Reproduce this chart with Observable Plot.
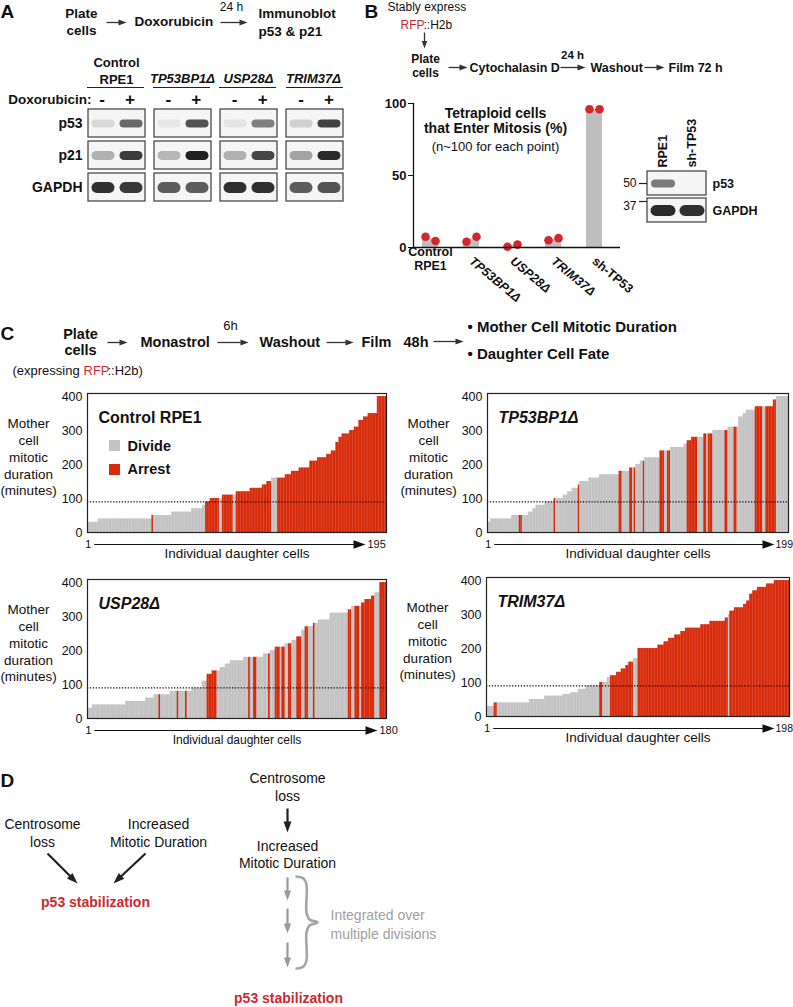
<!DOCTYPE html>
<html><head><meta charset="utf-8">
<script src="https://cdn.jsdelivr.net/npm/d3@7"></script>
<script src="https://cdn.jsdelivr.net/npm/@observablehq/plot@0.6"></script>
<style>
body{margin:0;background:#fff;}
#fig{position:relative;width:793px;height:1007px;overflow:hidden;}
#fig svg{position:absolute;overflow:visible;}
</style></head><body><div id="fig"></div>
<script>
// ---------------- DATA ----------------
// Panel A immunoblot (band intensity 0..1, per group: Control, TP53BP1Δ, USP28Δ, TRIM37Δ)
const blotGroups = ["Control RPE1", "TP53BP1Δ", "USP28Δ", "TRIM37Δ"];
const blotRows = ["p53", "p21", "GAPDH"];
const p53Untreated = [0.12, 0.06, 0.07, 0.16];
const p53Doxo = [0.62, 0.72, 0.52, 0.80];
const p21Untreated = [0.30, 0.28, 0.30, 0.36];
const p21Doxo = [0.82, 0.95, 0.78, 0.90];
const gapdhUntreated = [0.88, 0.68, 0.88, 0.68];
const gapdhDoxo = [0.84, 0.68, 0.88, 0.72];

// Panel B
const bCats = ["Control RPE1", "TP53BP1Δ", "USP28Δ", "TRIM37Δ", "sh-TP53"];
const bRep1 = [7.5, 4, 0.5, 5, 96];
const bRep2 = [4.5, 7.5, 2, 6.5, 96];
const insetLanes = ["RPE1", "sh-TP53"];
const insetRows = ["p53", "GAPDH"];
const insetP53 = [0.55, 0];
const insetGapdh = [0.9, 0.88];

// Panel C: runs of [mitotic duration (min), number of cells, fate D=Divide A=Arrest]
const threshold = 90;
const ctrlRuns = [[30,7,"D"],[40,35,"D"],[50,1,"A"],[50,12,"D"],[60,13,"D"],[70,7,"D"],[80,2,"D"],
 [90,3,"A"],[100,6,"A"],[100,2,"D"],[110,7,"A"],[110,2,"D"],[120,9,"A"],[130,8,"A"],[140,3,"A"],
 [150,3,"A"],[160,4,"D"],[160,5,"A"],[170,4,"A"],[180,5,"A"],[190,7,"A"],[210,5,"A"],[220,6,"A"],
 [230,3,"A"],[240,3,"A"],[265,2,"A"],[280,2,"A"],[290,5,"A"],[300,3,"A"],[310,3,"A"],[330,3,"A"],
 [340,3,"A"],[350,6,"A"],[400,6,"A"]];
const tp53bp1Runs = [[30,2,"D"],[40,14,"D"],[50,5,"D"],[50,2,"A"],[50,4,"D"],[60,3,"D"],[70,2,"D"],
 [80,6,"D"],[90,6,"D"],[100,1,"A"],[100,5,"D"],[110,3,"D"],[120,3,"D"],[130,4,"D"],[140,1,"A"],
 [150,6,"D"],[160,7,"D"],[170,13,"D"],[180,2,"A"],[180,5,"D"],[190,2,"A"],[190,1,"D"],[190,1,"A"],
 [200,3,"D"],[210,2,"D"],[210,1,"A"],[220,10,"D"],[240,3,"A"],[240,2,"D"],[240,2,"A"],[250,9,"D"],
 [260,2,"D"],[270,3,"A"],[280,4,"A"],[280,4,"D"],[290,2,"A"],[290,1,"D"],[290,3,"A"],[300,8,"D"],
 [300,2,"A"],[310,4,"D"],[310,2,"A"],[310,1,"D"],[340,3,"D"],[350,2,"D"],[360,6,"D"],[370,5,"A"],
 [370,2,"D"],[370,5,"A"],[390,2,"A"],[400,8,"D"]];
const usp28Runs = [[30,3,"D"],[40,20,"D"],[50,12,"D"],[60,5,"D"],[70,3,"D"],[70,1,"A"],[70,6,"D"],
 [80,4,"D"],[80,1,"A"],[80,4,"D"],[80,1,"A"],[80,3,"D"],[90,6,"D"],[110,3,"D"],[130,3,"A"],
 [140,3,"A"],[140,2,"D"],[150,3,"D"],[160,3,"D"],[170,8,"D"],[180,3,"D"],[180,1,"A"],[180,2,"D"],
 [180,2,"A"],[180,4,"D"],[190,3,"D"],[190,1,"A"],[200,3,"D"],[210,3,"A"],[210,1,"D"],[210,2,"A"],
 [220,2,"D"],[220,2,"A"],[230,3,"D"],[240,3,"A"],[260,2,"D"],[270,2,"A"],[270,3,"D"],[280,1,"A"],
 [280,2,"D"],[290,7,"D"],[310,11,"D"],[320,2,"A"],[330,2,"D"],[330,3,"A"],[330,1,"D"],[340,2,"A"],
 [350,4,"A"],[360,2,"A"],[370,3,"D"],[400,4,"A"]];
const trim37Runs = [[30,5,"D"],[40,2,"A"],[40,21,"D"],[50,10,"D"],[60,12,"D"],[65,5,"D"],[70,5,"D"],
 [80,5,"D"],[90,9,"D"],[100,2,"A"],[100,3,"D"],[115,2,"D"],[120,4,"A"],[130,3,"A"],[140,3,"A"],
 [150,2,"A"],[160,3,"A"],[170,3,"D"],[200,13,"A"],[210,4,"A"],[220,3,"A"],[230,4,"A"],[240,4,"A"],
 [250,3,"A"],[260,10,"A"],[270,6,"A"],[280,10,"A"],[290,2,"A"],[300,1,"D"],[310,3,"A"],[320,6,"A"],
 [330,2,"A"],[340,2,"A"],[360,2,"A"],[370,3,"A"],[380,6,"A"],[390,5,"A"],[400,10,"A"]];

// ---------------- STYLE ----------------
const FONT = "'Liberation Sans', Arial, Helvetica, sans-serif";
const GRAY = "#c3c3c3", RED = "#d72b0c", TXTRED = "#cc2a30", DOTRED = "#d3262e";
const base = {fontFamily: FONT, background: "transparent", overflow: "visible", color: "#111"};
const fig = document.getElementById("fig");
function place(svg, left, top) { svg.style.left = left + "px"; svg.style.top = top + "px"; fig.appendChild(svg); }

const headSym = {draw(ctx, size) { const r = Math.sqrt(size / Math.PI);
  ctx.moveTo(0, 0); ctx.lineTo(r * 0.72, r * 2); ctx.lineTo(-r * 0.72, r * 2); ctx.closePath(); }};
const bandSym = (w) => ({draw(ctx, size) { const h = Math.sqrt(size / Math.PI); const a = w / 2 - h;
  ctx.moveTo(-a, -h); ctx.lineTo(a, -h); ctx.arc(a, 0, h, -Math.PI / 2, Math.PI / 2);
  ctx.lineTo(-a, h); ctx.arc(-a, 0, h, Math.PI / 2, Math.PI * 1.5); ctx.closePath(); }});
function addBlur(svg, id, sd) {
  const s = d3.select(svg);
  s.insert("defs", ":first-child").append("filter").attr("id", id)
    .attr("x", "-40%").attr("y", "-80%").attr("width", "180%").attr("height", "260%")
    .append("feGaussianBlur").attr("stdDeviation", sd);
  s.selectAll('g[aria-label="band"]').attr("filter", `url(#${id})`);
}

// ---------------- PANEL A blots ----------------
{
  const cells = blotGroups.flatMap(g => blotRows.map(r => ({g, r})));
  const lane = (row, vals) => blotGroups.map((g, i) => ({g, r: row, o: vals[i]}));
  const bands = [];
  [["p53", p53Untreated, p53Doxo, 4.0], ["p21", p21Untreated, p21Doxo, 4.6], ["GAPDH", gapdhUntreated, gapdhDoxo, 5.4]]
    .forEach(([row, u, d, r]) => {
      bands.push(Plot.dot(lane(row, u), {x: "g", y: "r", dx: -14, r, symbol: bandSym(23), fill: "#141414", fillOpacity: "o", stroke: "none", ariaLabel: "band"}));
      bands.push(Plot.dot(lane(row, d), {x: "g", y: "r", dx: 14, r, symbol: bandSym(23), fill: "#141414", fillOpacity: "o", stroke: "none", ariaLabel: "band"}));
    });
  const svg = Plot.plot({
    width: 350, height: 110, marginLeft: 87, marginRight: 7, marginTop: 8, marginBottom: 8,
    x: {type: "band", domain: blotGroups, paddingInner: 0.14, paddingOuter: 0, axis: null},
    y: {type: "band", domain: blotRows, paddingInner: 0.12, paddingOuter: 0, axis: null},
    style: {...base, fontWeight: "bold", fontSize: "14px"},
    marks: [
      Plot.cell(cells, {x: "g", y: "r", fill: "#f5f5f5", stroke: "#4a4a4a", strokeWidth: 1.3}),
      ...bands,
      Plot.axisY({tickSize: 0, tickPadding: 5, fontSize: 14, label: null})
    ]
  });
  addBlur(svg, "blurA", 2);
  place(svg, 0, 100);
}

// ---------------- PANEL B chart ----------------
{
  const rows = bCats.flatMap((c, i) => [{cat: c, rep: 1, v: bRep1[i]}, {cat: c, rep: 2, v: bRep2[i]}]);
  const svg = Plot.plot({
    width: 260, height: 220, marginLeft: 43, marginRight: 10, marginTop: 13, marginBottom: 63,
    x: {type: "band", domain: bCats, range: [40, 245], paddingInner: 0.6, paddingOuter: 0.3, axis: null},
    y: {domain: [0, 100], axis: null},
    style: {...base, fontWeight: "bold", fontSize: "13px"},
    marks: [
      Plot.barY(rows, Plot.groupX({y: "mean"}, {x: "cat", y: "v", fill: "#bebebe"})),
      Plot.dot(rows.filter(d => d.rep === 1), {x: "cat", y: "v", dx: -5, r: 4.3, fill: DOTRED}),
      Plot.dot(rows.filter(d => d.rep === 2), {x: "cat", y: "v", dx: 5, r: 4.3, fill: DOTRED}),
      Plot.ruleY([0], {stroke: "#111", strokeWidth: 1.3}),
      Plot.frame({anchor: "left", stroke: "#111", strokeWidth: 1.3}),
      Plot.axisY({ticks: [0, 50, 100], tickSize: 5, tickPadding: 2, fontSize: 13, label: null}),
      Plot.text([bCats[0]], {x: d => d, text: () => "Control\nRPE1", frameAnchor: "bottom", dy: 22.5, lineHeight: 1.15, fontSize: 12.5}),
      Plot.text(bCats.slice(1, 4), {x: d => d, frameAnchor: "bottom", dy: 15, dx: -3, rotate: 40, textAnchor: "start", fontStyle: "italic", fontSize: 12.5}),
      Plot.text(bCats.slice(4), {x: d => d, frameAnchor: "bottom", dy: 15, dx: -3, rotate: 40, textAnchor: "start", fontSize: 12.5})
    ]
  });
  place(svg, 370, 90);
}

// ---------------- PANEL B inset blot ----------------
{
  const lane = (vals, row) => insetLanes.map((l, i) => ({l, r: row, o: vals[i]}));
  const svg = Plot.plot({
    width: 173, height: 110, marginLeft: 27, marginRight: 87, marginTop: 51, marginBottom: 7,
    x: {type: "band", domain: insetLanes, padding: 0, axis: "top", tickRotate: -90, tickSize: 0, tickPadding: 4, label: null},
    y: {type: "band", domain: insetRows, paddingInner: 0.11, paddingOuter: 0, axis: "right", tickSize: 0, tickPadding: 6, label: null},
    style: {...base, fontWeight: "bold", fontSize: "12.5px"},
    marks: [
      Plot.cell(insetRows, {y: d => d, fill: "#f5f5f5", stroke: "#4a4a4a", strokeWidth: 1.3}),
      Plot.dot(lane(insetP53, "p53"), {x: "l", y: "r", r: 4.0, symbol: bandSym(24), fill: "#141414", fillOpacity: "o", stroke: "none", ariaLabel: "band"}),
      Plot.dot(lane(insetGapdh, "GAPDH"), {x: "l", y: "r", r: 5.4, symbol: bandSym(25), fill: "#141414", fillOpacity: "o", stroke: "none", ariaLabel: "band"})
    ]
  });
  addBlur(svg, "blurB", 1.8);
  place(svg, 620, 120);
}

// ---------------- PANEL C charts ----------------
function expand(runs) {
  const out = []; let k = 1;
  for (const [v, n, s] of runs) for (let j = 0; j < n; j++) out.push({k: k++, v, state: s === "A" ? "Arrest" : "Divide"});
  return out;
}
function cChart(o) {
  const cells = expand(o.runs); const N = cells.length;
  const H = 190, mt = 13, mb = 38, yMax = 409;
  const iw = o.width - o.ml - o.mr, ih = H - mt - mb;
  const u = N / iw, ya = -12 * yMax / ih;
  const one = [0];
  return Plot.plot({
    width: o.width, height: H, marginLeft: o.ml, marginRight: o.mr, marginTop: mt, marginBottom: mb,
    style: {...base, fontSize: "12.5px"},
    x: {domain: [0.5, N + 0.5], axis: null},
    y: {domain: [0, yMax], axis: null},
    color: {domain: ["Divide", "Arrest"], range: [GRAY, RED]},
    marks: [
      Plot.rect(cells, {x1: d => d.k - 0.5, x2: d => Math.min(N + 0.5, d.k + 0.5 + 0.25 * u), y1: () => 0, y2: "v", fill: "state"}),
      Plot.ruleY([threshold], {stroke: "#111", strokeWidth: 1.1, strokeDasharray: "1.3,1.6"}),
      Plot.frame({stroke: "#222", strokeWidth: 1.2}),
      Plot.axisY({ticks: [0, 100, 200, 300, 400], tickSize: 0, tickPadding: 5, fontSize: 12.5, label: null}),
      Plot.link(one, {x1: () => 1 + 6 * u, x2: () => N + 0.5 - (o.tip + 10) * u, y1: () => ya, y2: () => ya, stroke: "#111", strokeWidth: 1}),
      Plot.dot(one, {x: () => N + 0.5 - o.tip * u, y: () => ya, r: 6, symbol: headSym, rotate: 90, fill: "#111", stroke: "none"}),
      Plot.text(["1"], {x: () => 1, y: () => ya, fontSize: 11.5}),
      Plot.text([String(N)], {x: () => N + 0.5, y: () => ya, dx: o.labelDx, textAnchor: "start", fontSize: o.endFont}),
      Plot.text(["Individual daughter cells"], {frameAnchor: "bottom", dy: 25, fontSize: o.xFont}),
      Plot.text(["Mother\ncell\nmitotic\nduration\n(minutes)"], {frameAnchor: "left", dx: -59, dy: -6.5, textAnchor: "middle", lineHeight: 1.24, fontSize: 13.5}),
      Plot.text([o.title], {frameAnchor: "top-left", dx: 11, dy: 18, textAnchor: "start", fontWeight: "bold", fontSize: 16, fontStyle: o.italic ? "italic" : "normal"})
    ]
  });
}
place(cChart({runs: ctrlRuns, title: "Control RPE1", italic: false, width: 400, ml: 87, mr: 14, tip: 21, labelDx: -19, endFont: 11, xFont: 13.5}), 0, 380);
place(cChart({runs: tp53bp1Runs, title: "TP53BP1Δ", italic: true, width: 393, ml: 87, mr: 5, tip: 14, labelDx: -13, endFont: 10.5, xFont: 13.5}), 400, 380);
place(cChart({runs: usp28Runs, title: "USP28Δ", italic: true, width: 400, ml: 87, mr: 14, tip: 9, labelDx: -7, endFont: 11, xFont: 12}), 0, 566);
place(cChart({runs: trim37Runs, title: "TRIM37Δ", italic: true, width: 393, ml: 86, mr: 4, tip: 15, labelDx: -14, endFont: 10.5, xFont: 13.5}), 400, 564);

// ---------------- OVERLAY (panel labels, schematics, diagram) ----------------
const T = (x, y, text, o = {}) => Plot.text([{x, y, text}], {x: "x", y: "y", text: "text", fontSize: 13, ...o});
const BOLD = {fontWeight: "bold"};
function arrowMarks(list, {stroke = "#333", strokeWidth = 1.3, r = 4} = {}) {
  const len = 2 * r;
  const data = list.map(([x1, y1, x2, y2]) => {
    const a = Math.atan2(y2 - y1, x2 - x1);
    return {x1, y1, x2, y2, sx: x2 - Math.cos(a) * (len - 1.5), sy: y2 - Math.sin(a) * (len - 1.5), rot: a * 180 / Math.PI + 90};
  });
  return [
    Plot.link(data, {x1: "x1", y1: "y1", x2: "sx", y2: "sy", stroke, strokeWidth}),
    Plot.dot(data, {x: "x2", y: "y2", symbol: headSym, r, rotate: "rot", fill: stroke, stroke: "none"})
  ];
}
const braceLine = [[296,876],[303,878],[306,884],[306,912],[309,919],[317,922],[309,925],[306,932],[306,960],[303,966],[296,968]].map(([x, y]) => ({x, y}));
const laneX = [[101.5, 129.5], [167.8, 195.8], [234.1, 262.1], [300.5, 328.5]];
const overlay = Plot.plot({
  width: 793, height: 1007, margin: 0,
  x: {type: "identity", axis: null}, y: {type: "identity", axis: null},
  style: {...base, fontSize: "13px"},
  marks: [
    // panel letters
    T(0, 11, "A", {...BOLD, textAnchor: "start", fontSize: 19}),
    T(364, 11, "B", {...BOLD, textAnchor: "start", fontSize: 19}),
    T(0, 333, "C", {...BOLD, textAnchor: "start", fontSize: 19}),
    T(0, 780, "D", {...BOLD, textAnchor: "start", fontSize: 19}),
    // Panel A schematic
    T(81, 21, "Plate\ncells", {...BOLD, fontSize: 13.5, lineHeight: 1.26}),
    ...arrowMarks([[106, 22, 126, 22], [220, 22, 247, 22]]),
    T(134, 21, "Doxorubicin", {...BOLD, textAnchor: "start", fontSize: 13.5}),
    T(231, 7, "24 h", {fontSize: 12}),
    T(258, 21, "Immunoblot\np53 & p21", {...BOLD, textAnchor: "start", fontSize: 13.5, lineHeight: 1.33}),
    T(116, 69.5, "Control\nRPE1", {...BOLD, fontSize: 13, lineHeight: 1.3}),
    T(182, 78, "TP53BP1Δ", {...BOLD, fontStyle: "italic", fontSize: 13}),
    T(248, 78, "USP28Δ", {...BOLD, fontStyle: "italic", fontSize: 13}),
    T(313, 78, "TRIM37Δ", {...BOLD, fontStyle: "italic", fontSize: 13}),
    Plot.ruleY([[87, 144], [153, 210], [219, 276], [286, 343]], {y: () => 87, x1: d => d[0], x2: d => d[1], stroke: "#222", strokeWidth: 1.2}),
    T(91, 99, "Doxorubicin:", {...BOLD, textAnchor: "end", fontSize: 13.5}),
    Plot.text(laneX.map(d => ({x: d[0], y: 99, t: "-"})), {x: "x", y: "y", text: "t", ...BOLD, fontSize: 17}),
    Plot.text(laneX.map(d => ({x: d[1], y: 99, t: "+"})), {x: "x", y: "y", text: "t", ...BOLD, fontSize: 17}),
    // Panel B schematic
    T(387, 7, "Stably express", {textAnchor: "start", fontSize: 12}),
    T(400, 25, "RFP", {textAnchor: "start", fontSize: 12, fill: TXTRED}),
    T(423, 25, "::H2b", {textAnchor: "start", fontSize: 12}),
    ...arrowMarks([[424, 32, 424, 48]], {r: 3.8}),
    T(425, 65, "Plate\ncells", {...BOLD, fontSize: 12, lineHeight: 1.17}),
    ...arrowMarks([[448, 67, 467, 67], [560, 67, 585, 67], [644, 67, 664, 67]]),
    T(469, 67, "Cytochalasin D", {...BOLD, textAnchor: "start", fontSize: 12.5}),
    T(572, 55, "24 h", {...BOLD, fontSize: 11.5}),
    T(590, 67, "Washout", {...BOLD, textAnchor: "start", fontSize: 12.5}),
    T(668, 67, "Film 72 h", {...BOLD, textAnchor: "start", fontSize: 12.5}),
    T(495, 113, "Tetraploid cells", {...BOLD, fontSize: 14}),
    T(495, 128, "that Enter Mitosis (%)", {...BOLD, fontSize: 14}),
    T(495, 146, "(n~100 for each point)", {fontSize: 13}),
    T(636, 183, "50", {textAnchor: "end", fontSize: 12}),
    T(636, 206, "37", {textAnchor: "end", fontSize: 12}),
    Plot.ruleY([183, 201], {y: d => d, x1: () => 639, x2: () => 647, stroke: "#222", strokeWidth: 1.2}),
    // Panel C schematic
    T(80, 341, "Plate\ncells", {...BOLD, fontSize: 14.5, lineHeight: 1.1}),
    ...arrowMarks([[107, 342, 127, 342], [217, 342, 248, 342], [326, 342, 353, 342], [433, 341, 463, 341]]),
    T(140, 342, "Monastrol", {...BOLD, textAnchor: "start", fontSize: 14.5}),
    T(230, 325, "6h", {fontSize: 13}),
    T(259, 342, "Washout", {...BOLD, textAnchor: "start", fontSize: 14.5}),
    T(361, 342, "Film", {...BOLD, textAnchor: "start", fontSize: 14.5}),
    T(403, 342, "48h", {...BOLD, textAnchor: "start", fontSize: 14.5}),
    T(467, 327, "• Mother Cell Mitotic Duration", {...BOLD, textAnchor: "start", fontSize: 15}),
    T(467, 354, "• Daughter Cell Fate", {...BOLD, textAnchor: "start", fontSize: 15}),
    T(12, 370, "(expressing ", {textAnchor: "start", fontSize: 13}),
    T(83, 370, "RFP", {textAnchor: "start", fontSize: 13, fill: TXTRED}),
    T(107, 370, "::H2b)", {textAnchor: "start", fontSize: 13}),
    // Panel C legend
    Plot.rect([0], {x1: () => 109, x2: () => 120, y1: () => 440, y2: () => 451, fill: GRAY}),
    Plot.rect([0], {x1: () => 109, x2: () => 120, y1: () => 464, y2: () => 475, fill: RED}),
    T(127, 446, "Divide", {...BOLD, textAnchor: "start", fontSize: 14.5}),
    T(127, 469, "Arrest", {...BOLD, textAnchor: "start", fontSize: 14.5}),
    // Panel D
    T(42, 832, "Centrosome\nloss", {fontSize: 14, lineHeight: 1.25}),
    T(158, 832, "Increased\nMitotic Duration", {fontSize: 14, lineHeight: 1.25}),
    ...arrowMarks([[47, 853, 77, 883], [145, 853, 113, 883]], {stroke: "#222", strokeWidth: 2.2, r: 5.5}),
    T(95, 902, "p53 stabilization", {...BOLD, fontSize: 14, fill: TXTRED}),
    T(287, 786, "Centrosome\nloss", {fontSize: 14, lineHeight: 1.25}),
    ...arrowMarks([[287, 808, 287, 832]], {stroke: "#222", strokeWidth: 2.2, r: 5.5}),
    T(287, 853.5, "Increased\nMitotic Duration", {fontSize: 14, lineHeight: 1.25}),
    ...arrowMarks([[287, 877, 287, 900], [287, 908, 287, 933], [287, 942, 287, 967]], {stroke: "#999", strokeWidth: 2.2, r: 5}),
    Plot.line(braceLine, {x: "x", y: "y", curve: "catmull-rom", stroke: "#a6a6a6", strokeWidth: 2.6}),
    T(330, 922.5, "Integrated over\nmultiple divisions", {textAnchor: "start", fontSize: 14, lineHeight: 1.36, fill: "#a0a0a0"}),
    T(288, 998, "p53 stabilization", {...BOLD, fontSize: 14, fill: TXTRED})
  ]
});
place(overlay, 0, 0);
</script></body></html>
